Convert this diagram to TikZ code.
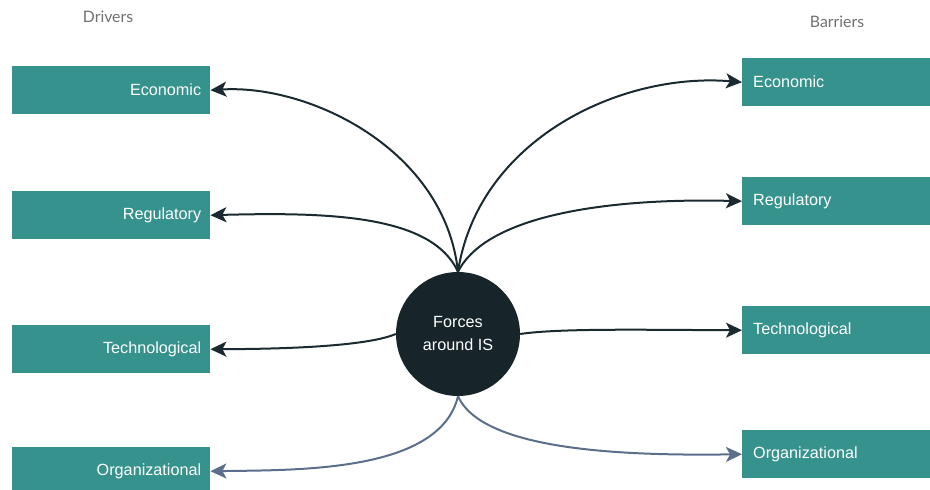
\documentclass[tikz,border=0pt]{standalone}
\usepackage{fontspec}
\setmainfont{Liberation Sans}
\newfontfamily\headfont{Lato}
\usetikzlibrary{arrows.meta,positioning}
\definecolor{boxteal}{HTML}{35928D}
\definecolor{coredark}{HTML}{17252B}
\definecolor{linkdark}{HTML}{1B2A30}
\definecolor{linkslate}{HTML}{5B6E8C}
\definecolor{headgray}{HTML}{707070}

\begin{document}
\begin{tikzpicture}[x=1pt,y=-1pt,
                    force/.style={fill=boxteal, text=white, minimum height=48pt,
                                  inner ysep=0pt, font=\fontsize{16.2}{18}\selectfont},
                    driver/.style={force, anchor=north west, text width=180pt,
                                   inner xsep=9pt, align=right},
                    barrier/.style={force, anchor=north west, text width=166pt,
                                    inner xsep=11pt, align=left},
                    link/.style={draw=linkdark, line width=2pt,
                                 -{Stealth[length=16pt,width=15pt,inset=4pt]}},
                    softlink/.style={link, draw=linkslate}]
    \useasboundingbox (0,0) rectangle (930,490);
    % headings
    \node[text=headgray, font=\headfont\fontsize{15.8}{18}\selectfont] (drv) at (108,17) {Drivers};
    \node[text=headgray, font=\headfont\fontsize{15.8}{18}\selectfont] (bar) at (837,22) {Barriers};
    % drivers
    \node[driver] (dEco) at (12,66) {Economic};
    \node[driver] (dReg) at (12,191) {Regulatory};
    \node[driver] (dTech) at (12,325) {Technological};
    \node[driver] (dOrg) at (12,447) {Organizational};
    % barriers
    \node[barrier] (bEco) at (742,58) {Economic};
    \node[barrier] (bReg) at (742,177) {Regulatory};
    \node[barrier] (bTech) at (742,306) {Technological};
    \node[barrier] (bOrg) at (742,430) {Organizational};
    % centre
    \node[circle, fill=coredark, text=white, minimum size=124pt, inner sep=0pt,
          align=center, font=\fontsize{16.2}{23}\selectfont] (core) at (458,334)
          {Forces\\around IS};
    % links
    \draw[link] (core.north) .. controls (445,150) and (310,84) .. (dEco.east);
    \draw[link] (core.north) .. controls (478,140) and (620,72) .. (bEco.west);
    \draw[link] (core.north) .. controls (432,215) and (330,212) .. (dReg.east);
    \draw[link] (core.north) .. controls (488,212) and (620,198) .. (bReg.west);
    \draw[link] (core.west) .. controls (370,345) and (300,349) .. (dTech.east);
    \draw[link] (core.east) .. controls (560,328) and (650,330) .. (bTech.west);
    \draw[softlink] (core.south) .. controls (440,472) and (300,470) .. (dOrg.east);
    \draw[softlink] (core.south) .. controls (482,450) and (620,456) .. (bOrg.west);
\end{tikzpicture}
\end{document}
